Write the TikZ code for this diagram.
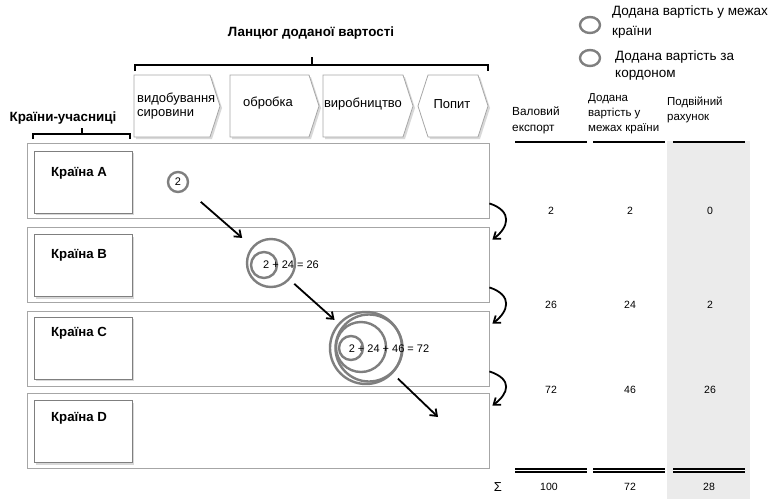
\documentclass[tikz,border=0pt]{standalone}
\usepackage{fontspec}
\setmainfont{Liberation Sans}
\usetikzlibrary{positioning,shapes.geometric,shadows,arrows.meta}
\definecolor{ringgray}{HTML}{7F7F7F}
\definecolor{rowgray}{HTML}{A6A6A6}
\definecolor{colgray}{HTML}{EBEBEB}

\begin{document}
\begin{tikzpicture}[x=1pt,y=-1pt,
    arr/.style={-{Straight Barb[length=6pt,width=9pt]},line width=1.8pt},
    ring/.style={circle,draw=ringgray,line width=2.4pt,inner sep=0pt},
    brk/.style={line width=2pt},
    hline/.style={line width=2.4pt},
    dline/.style={double,double distance=1pt,line width=2pt},
    shd/.style={drop shadow={shadow xshift=2pt,shadow yshift=-2pt,opacity=.3}},
    chev/.style={draw=rowgray,fill=white,line width=.8pt,shd}]

        \useasboundingbox (0,0) rectangle (772,499);

        % shaded column
        \fill[colgray] (667,141) rectangle (750,499);

        % titles and brackets
        \begin{scope}[every node/.style={font=\bfseries\fontsize{13.4}{15}\selectfont}]
          \node (ttl) at (311,33) {Ланцюг доданої вартості};
          \node (prt) at (63,118) {Країни-учасниці};
        \end{scope}
        \draw[brk] (135,71) -- (135,65) -- (488,65) -- (488,71) (312,65) -- (312,57);
        \draw[brk] (33,139) -- (33,134) -- (130,134) -- (130,139) (82,134) -- (82,128);

        % value chain steps
        \filldraw[chev] (134,75) -- (210,75) -- (220,106) -- (210,137) -- (134,137) -- cycle;
        \filldraw[chev] (230,75) -- (309,75) -- (319,106) -- (309,137) -- (230,137) -- cycle;
        \filldraw[chev] (323,75) -- (403,75) -- (413,106) -- (403,137) -- (323,137) -- cycle;
        \filldraw[chev] (428,75) -- (478,75) -- (488,106) -- (478,137) -- (428,137) -- (418,106) -- cycle;
        \begin{scope}[every node/.style={inner sep=0pt,align=left,font=\fontsize{13}{14}\selectfont}]
          \node[anchor=west] (s1) at (137,106) {видобування\\сировини};
          \node (s2) at (268,103) {обробка};
          \node (s3) at (363,104) {виробництво};
          \node (s4) at (452,104) {Попит};
        \end{scope}

        % countries
        \begin{scope}[every node/.style={rectangle,draw=rowgray,fill=white,line width=.8pt}]
          \node[minimum width=462pt,minimum height=75pt] (rA) at (258,180.5) {};
          \node[minimum width=462pt,minimum height=75pt] (rB) at (258,264.5) {};
          \node[minimum width=462pt,minimum height=75pt] (rC) at (258,348.5) {};
          \node[minimum width=462pt,minimum height=75pt] (rD) at (258,430.5) {};
          \node[shd,draw=ringgray,minimum width=98pt,minimum height=62pt] (bA) at (83,182) {};
          \node[shd,draw=ringgray,minimum width=98pt,minimum height=62pt] (bB) at (83,265.5) {};
          \node[shd,draw=ringgray,minimum width=98pt,minimum height=62pt] (bC) at (83,348) {};
          \node[shd,draw=ringgray,minimum width=98pt,minimum height=62pt] (bD) at (83,431.5) {};
        \end{scope}
        \begin{scope}[every node/.style={font=\bfseries\fontsize{13.2}{15}\selectfont}]
          \node (lA) at (79,173) {Країна A};
          \node (lB) at (79,255) {Країна B};
          \node (lC) at (79,333) {Країна C};
          \node (lD) at (79,418) {Країна D};
        \end{scope}

        % value added circles
        \begin{scope}[every node/.style={font=\fontsize{11}{13}\selectfont}]
          \node[ring,minimum size=20pt] (cA) at (178,182) {2};
          \node[ring,minimum size=48pt] (cB) at (271,263) {};
          \node[ring,minimum size=26pt] (cBi) at (264,265) {};
          \node (tB) at (291,265) {2 + 24 = 26};
          \node[ring,minimum size=72pt] (cC) at (366,348) {};
          \node[ring,minimum size=67pt] (cCo) at (369,348) {};
          \node[ring,minimum size=50pt] (cCm) at (361,347) {};
          \node[ring,minimum size=24pt] (cCi) at (351,348) {};
          \node (tC) at (389,349) {2 + 24 + 46 = 72};
        \end{scope}
        \coordinate (dEnd) at (438,417);

        \draw[arr,shorten <=19pt,shorten >=13pt] (cA) -- (cB);
        \draw[arr,shorten <=6pt,shorten >=5pt] (cB) -- (cC);
        \draw[arr,shorten <=7pt] (cC) -- (dEnd);

        % flows between countries
        \draw[arr] ([yshift=15pt]rA.south east) .. controls +(24,8) and +(16,-12) .. ([xshift=3pt,yshift=-13pt]rB.north east);
        \draw[arr] ([yshift=15pt]rB.south east) .. controls +(24,8) and +(16,-12) .. ([xshift=3pt,yshift=-13pt]rC.north east);
        \draw[arr] ([yshift=15pt]rC.south east) .. controls +(24,8) and +(16,-12) .. ([xshift=3pt,yshift=-13pt]rD.north east);

        % legend
        \node[ellipse,draw=ringgray,line width=2.4pt,minimum width=20pt,minimum height=16pt] (e1) at (590,25) {};
        \node[ellipse,draw=ringgray,line width=2.4pt,minimum width=20pt,minimum height=16pt] (e2) at (590,58) {};
        \begin{scope}[every node/.style={anchor=west,align=left,inner sep=0pt,font=\fontsize{13.5}{20}\selectfont}]
          \node (g1) at (612,22) {Додана вартість у межах\\країни};
          \node[font=\fontsize{13.5}{17}\selectfont] (g2) at (615,66) {Додана вартість за\\кордоном};
        \end{scope}

        % table
        \begin{scope}[every node/.style={anchor=west,align=left,inner sep=0pt,font=\fontsize{11.8}{16}\selectfont}]
          \node (h1) at (512,120) {Валовий\\експорт};
          \node[font=\fontsize{11.5}{15}\selectfont] (h2) at (588,114) {Додана\\вартість у\\межах країни};
          \node[font=\fontsize{11.5}{15}\selectfont] (h3) at (667,110) {Подвійний\\рахунок};
        \end{scope}
        \draw[hline] (515,142) -- (587,142) (593,142) -- (665,142) (673,142) -- (745,142);
        \draw[dline] (515,470) -- (587,470) (593,470) -- (665,470) (673,470) -- (745,470);

        \begin{scope}[every node/.style={font=\fontsize{10.5}{12}\selectfont}]
          \node (v11) at (551,211) {2};
          \node (v12) at (630,211) {2};
          \node (v13) at (710,211) {0};
          \node (v21) at (551,305) {26};
          \node (v22) at (630,305) {24};
          \node (v23) at (710,305) {2};
          \node (v31) at (551,390) {72};
          \node (v32) at (630,390) {46};
          \node (v33) at (710,390) {26};
          \node[font=\fontsize{13}{14}\selectfont] (sg) at (498,487) {Σ};
          \node (s1v) at (549,487) {100};
          \node (s2v) at (630,487) {72};
          \node (s3v) at (709,487) {28};
        \end{scope}

      \end{tikzpicture}
\end{document}
